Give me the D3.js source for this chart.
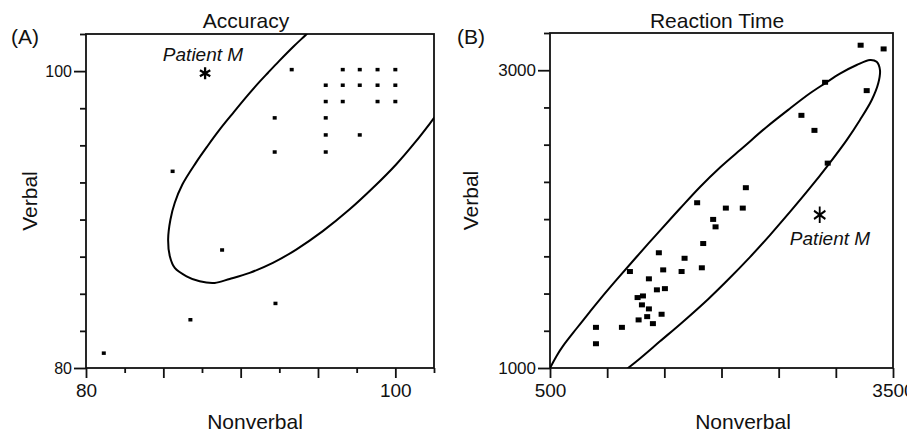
<!DOCTYPE html>
<html>
<head>
<meta charset="utf-8">
<script src="https://cdn.jsdelivr.net/npm/d3@7"></script>
<style>
  body { margin: 0; background: #fff; }
  text { font-family: "Liberation Sans", Arial, sans-serif; fill: #111; }
</style>
</head>
<body>
<svg id="chart" width="907" height="433"></svg>
<script>
// panel A: accuracy (percent correct)
const accNonverbal = [93.3, 96.6, 97.7, 98.85, 100, 95.5, 96.6, 97.7, 98.85, 100,
  95.5, 96.6, 98.85, 100, 92.2, 95.5, 95.5, 97.7, 92.2, 95.5, 85.6, 88.8, 92.25, 86.75, 81.15];
const accVerbal = [100.1, 100.1, 100.1, 100.1, 100.1, 99.05, 99.05, 99.05, 99.05, 99.05,
  97.95, 97.95, 97.95, 97.95, 96.85, 96.85, 95.7, 95.7, 94.55, 94.55, 93.25, 87.95, 84.35, 83.25, 81.0];
const accPatient = [87.7, 99.85];
// outline of the normal-range ellipse (runs past the frame)
const accEllipseX = [94.71, 94.24, 93.45, 92.48, 91.77, 91.17, 90.41, 89.52, 88.65, 87.85, 87.1, 86.23,
  85.74, 85.46, 85.31, 85.42, 85.74, 86.5, 87.35, 88.32, 89.29, 90.58, 92.08, 93.59, 95.31,
  97.03, 98.54, 100.05, 101.34, 102.52, 102.84];
const accEllipseY = [102.95, 102.47, 101.69, 100.67, 99.89, 99.22, 98.31, 97.19, 96.07, 94.94, 93.82, 92.36,
  91.13, 90.0, 88.65, 87.53, 86.74, 86.18, 85.84, 85.73, 86.0, 86.41, 87.08, 87.98, 89.22,
  90.67, 92.12, 93.71, 95.28, 96.86, 97.29];

// panel B: reaction time (ms)
const rtNonverbal = [3217, 3418, 2906, 3270, 2699, 2813, 2929, 2213, 1787, 2038, 2186, 1927, 1948,
  1840, 1452, 1677, 1199, 1490, 1651, 1828, 1365, 1435, 1505, 1266, 1313, 1304, 1365, 1476,
  1350, 1275, 1400, 902, 1129, 902];
const rtVerbal = [3168, 3143, 2919, 2863, 2697, 2596, 2376, 2211, 2110, 2074, 2074, 1998, 1948,
  1836, 1774, 1737, 1648, 1659, 1648, 1673, 1599, 1525, 1533, 1473, 1484, 1424, 1397, 1361,
  1345, 1323, 1298, 1273, 1273, 1163];
const rtPatient = [2859, 2029];
const rtEllipseX = [456, 500, 559, 616, 734, 850, 937, 1083, 1258, 1462, 1637, 1812, 1987, 2191, 2395,
  2599, 2774, 2905, 3036, 3182, 3299, 3357, 3386, 3371, 3314, 3211, 3095, 2934, 2774, 2599,
  2424, 2249, 2048, 1885, 1666, 1462, 1287, 1176, 1095];
const rtEllipseY = [946, 1000, 1083, 1150, 1267, 1379, 1461, 1593, 1747, 1923, 2071, 2216, 2347, 2483, 2619,
  2743, 2845, 2912, 2977, 3035, 3069, 3057, 3001, 2912, 2800, 2666, 2531, 2365, 2209, 2048,
  1893, 1745, 1586, 1464, 1313, 1179, 1064, 995, 945];

// ticks
const accTicks = d3.range(80, 102.51, 2.5);
const accLabels = [80, 100];
const rtXTicks = d3.range(500, 3501, 500);
const rtXLabels = [500, 3500];
const rtYTicks = d3.range(1000, 3251, 250);
const rtYLabels = [1000, 3000];

const svg = d3.select('#chart');

function drawPanel(p) {
  const { x, y, id } = p;
  const [x0, x1] = x.range();
  const [y0, y1] = y.range();
  const g = svg.append('g');

  g.append('clipPath').attr('id', id)
    .append('rect').attr('x', x0).attr('y', y1).attr('width', x1 - x0).attr('height', y0 - y1);

  // frame
  g.append('rect')
    .attr('x', x0).attr('y', y1).attr('width', x1 - x0).attr('height', y0 - y1)
    .attr('fill', 'none').attr('stroke', '#111').attr('stroke-width', 1.8);

  const xAxis = d3.axisBottom(x)
    .tickValues(p.xTicks).tickSize(10).tickSizeOuter(0).tickPadding(6)
    .tickFormat(d => p.xLabels.includes(d) ? d : '');
  const yAxis = d3.axisLeft(y)
    .tickValues(p.yTicks).tickSize(12).tickSizeOuter(0).tickPadding(2)
    .tickFormat(d => p.yLabels.includes(d) ? d : '');

  const gx = g.append('g').attr('transform', `translate(0,${y0})`).call(xAxis);
  const gy = g.append('g').attr('transform', `translate(${x0},0)`).call(yAxis);
  [gx, gy].forEach(a => {
    a.select('.domain').remove();
    a.selectAll('line').attr('stroke', '#111').attr('stroke-width', 1.8);
    a.selectAll('text').attr('fill', '#111').style('font-family', '"Liberation Sans", Arial, sans-serif');
  });
  gx.selectAll('text').style('font-size', '19px');
  gy.selectAll('text').style('font-size', p.yFont);
  gx.selectAll('.tick').filter(d => !p.xMajor(d)).select('line').attr('y2', 5);
  gy.selectAll('.tick').filter(d => !p.yLabels.includes(d)).select('line').attr('x2', -6);

  // ellipse
  const line = d3.line().curve(d3.curveCatmullRom.alpha(0.5))
    .x(d => x(d[0])).y(d => y(d[1]));
  g.append('path')
    .datum(d3.zip(p.ellX, p.ellY))
    .attr('clip-path', `url(#${id})`)
    .attr('d', line)
    .attr('fill', 'none').attr('stroke', '#000').attr('stroke-width', 2);

  // subjects
  g.append('g').selectAll('rect')
    .data(d3.zip(p.xs, p.ys))
    .join('rect')
    .attr('x', d => x(d[0]) - p.mw / 2)
    .attr('y', d => y(d[1]) - p.mh / 2)
    .attr('width', p.mw).attr('height', p.mh)
    .attr('fill', '#000');

  // patient M
  g.append('path')
    .attr('d', d3.symbol(d3.symbolAsterisk, p.starSize)())
    .attr('transform', `translate(${x(p.patient[0])},${y(p.patient[1])}) scale(${p.starScale[0]},${p.starScale[1]})`)
    .attr('fill', 'none').attr('stroke', '#000').attr('stroke-width', 2.3);
  g.append('text')
    .attr('x', p.patientLabel[0]).attr('y', p.patientLabel[1])
    .attr('text-anchor', 'middle').style('font-size', '19px').style('font-style', 'italic')
    .text('Patient M');

  // titles and axis names
  g.append('text').attr('x', p.titleX).attr('y', 28).attr('text-anchor', 'middle')
    .style('font-size', '21px').text(p.title);
  g.append('text').attr('x', p.tagX).attr('y', 44).style('font-size', '21px').text(p.tag);
  g.append('text').attr('x', p.xNameX).attr('y', 429).attr('text-anchor', 'middle')
    .style('font-size', '21px').text('Nonverbal');
  g.append('text')
    .attr('transform', `translate(${p.yNameX},${(y0 + y1) / 2}) rotate(-90)`)
    .attr('text-anchor', 'middle').style('font-size', '21px').text('Verbal');
}

drawPanel({
  id: 'clipA',
  x: d3.scaleLinear().domain([80, 102.5]).range([86, 434]),
  y: d3.scaleLinear().domain([80, 102.5]).range([368, 34]),
  xTicks: accTicks, xLabels: accLabels, xMajor: d => d % 5 === 0,
  yTicks: accTicks, yLabels: accLabels, yFont: '16px',
  ellX: accEllipseX, ellY: accEllipseY,
  xs: accNonverbal, ys: accVerbal, mw: 4, mh: 3.5,
  patient: accPatient, starSize: 100, starScale: [1, 1], patientLabel: [203, 61],
  title: 'Accuracy', titleX: 246, tag: '(A)', tagX: 11, xNameX: 255, yNameX: 37
});

drawPanel({
  id: 'clipB',
  x: d3.scaleLinear().domain([500, 3500]).range([550, 893]),
  y: d3.scaleLinear().domain([1000, 3250]).range([368, 33]),
  xTicks: rtXTicks, xLabels: rtXLabels, xMajor: () => true,
  yTicks: rtYTicks, yLabels: rtYLabels, yFont: '17px',
  ellX: rtEllipseX, ellY: rtEllipseY,
  xs: rtNonverbal, ys: rtVerbal, mw: 6, mh: 5,
  patient: rtPatient, starSize: 190, starScale: [0.8, 1], patientLabel: [830, 245],
  title: 'Reaction Time', titleX: 717, tag: '(B)', tagX: 457, xNameX: 743, yNameX: 478
});
</script>
</body>
</html>
